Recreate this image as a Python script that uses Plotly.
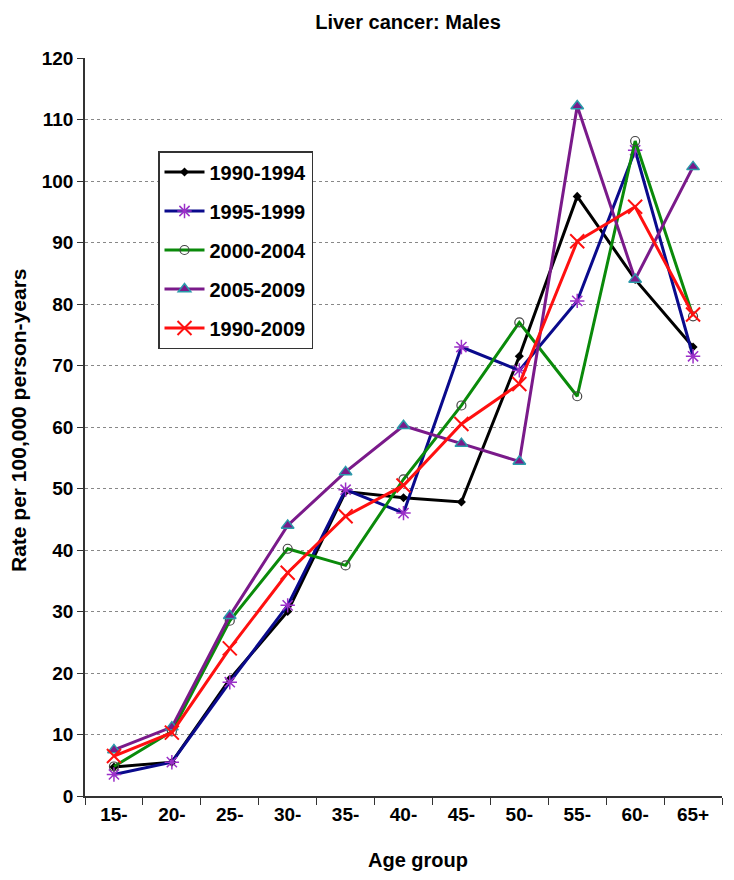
import plotly.graph_objects as go

age_groups = ["15-", "20-", "25-", "30-", "35-", "40-", "45-", "50-", "55-", "60-", "65+"]
p1990_1994 = [4.7, 5.5, 19.0, 30.0, 49.5, 48.5, 47.8, 71.5, 97.5, 84.0, 73.0]
p1995_1999 = [3.5, 5.5, 18.5, 31.0, 49.8, 46.0, 73.0, 69.2, 80.5, 105.0, 71.5]
p2000_2004 = [4.8, 10.5, 28.5, 40.2, 37.5, 51.5, 63.5, 77.0, 65.0, 106.5, 78.0]
p2005_2009 = [7.5, 11.2, 29.3, 44.0, 52.7, 60.2, 57.3, 54.4, 112.2, 84.0, 102.3]
p1990_2009 = [6.5, 10.3, 24.0, 36.3, 45.5, 50.5, 60.5, 67.0, 90.2, 95.8, 78.3]

series = [
    ("1990-1994", p1990_1994, "#000000", dict(symbol="diamond", size=7, color="#000000")),
    ("1995-1999", p1995_1999, "#0A0A8C", dict(symbol="asterisk-open", size=12, color="#9B30C8",
                                                line=dict(color="#9B30C8", width=1.5))),
    ("2000-2004", p2000_2004, "#0A8A0A", dict(symbol="circle-open", size=9, color="#444444",
                                                line=dict(color="#444444", width=1.2))),
    ("2005-2009", p2005_2009, "#7A1A8A", dict(symbol="triangle-up", size=11, color="#7A1A8A",
                                                line=dict(color="#2A9AAA", width=1.5))),
    ("1990-2009", p1990_2009, "#FF1010", dict(symbol="x-thin-open", size=14, color="#FF1010",
                                                line=dict(color="#FF1010", width=2))),
]

fig = go.Figure()
for name, vals, col, mk in series:
    fig.add_trace(go.Scatter(x=age_groups, y=vals, name="<b>" + name + "</b>", legendgroup=name,
                             mode="lines+markers", line=dict(color=col, width=3), marker=mk))

font_b = "Liberation Sans, Arial, sans-serif"
L, R, T, B = 85, 12, 58, 84
W, H = 734, 880
pw = W - L - R
ph = H - T - B

fig.update_layout(
    width=W, height=H,
    margin=dict(l=L, r=R, t=T, b=B),
    paper_bgcolor="white", plot_bgcolor="white",
    title=dict(text="<b>Liver cancer: Males</b>", x=408 / W, xanchor="center", y=1 - 22 / H, yanchor="middle",
               font=dict(family=font_b, size=20, color="#000")),
    font=dict(family=font_b, color="#000"),
    legend=dict(x=(158 - L) / pw, y=(H - B - 151) / ph, xanchor="left", yanchor="top",
                bordercolor="#333", borderwidth=1.5,
                bgcolor="white", font=dict(size=20, color="#000", family=font_b),
                tracegroupgap=10, itemwidth=40),
    showlegend=True,
    annotations=[
        dict(text="<b>Age group</b>", x=(418 - L) / pw, y=-(860 - (H - B)) / ph, xref="paper", yref="paper",
             xanchor="center", yanchor="middle", showarrow=False,
             font=dict(size=20, family=font_b, color="#000")),
        dict(text="<b>Rate per 100,000 person-years</b>", x=(18 - L) / pw, y=(H - B - 420) / ph,
             xref="paper", yref="paper", xanchor="center", yanchor="middle", showarrow=False,
             textangle=-90, font=dict(size=21, family=font_b, color="#000")),
    ],
)
fig.update_xaxes(
    type="category", tickson="boundaries", ticks="outside", ticklen=7, tickcolor="#333",
    showline=True, linecolor="#333", linewidth=1.5, showgrid=False, automargin=False,
    tickfont=dict(size=19, family=font_b, color="#000"),
    tickprefix="<b>", ticksuffix="</b>",
    range=[-0.5, 10.5],
)
fig.update_yaxes(
    range=[0, 120], dtick=10, ticks="outside", ticklen=6, tickcolor="#333",
    showline=True, linecolor="#333", linewidth=1.5, automargin=False,
    showgrid=True, gridcolor="#888888", griddash="dot", gridwidth=1,
    tickfont=dict(size=19, family=font_b, color="#000"),
    tickprefix="<b>", ticksuffix="</b>",
    zeroline=False,
)
fig.write_html("out.html", config={"displayModeBar": False},
               post_script="document.body.style.margin='0';")
